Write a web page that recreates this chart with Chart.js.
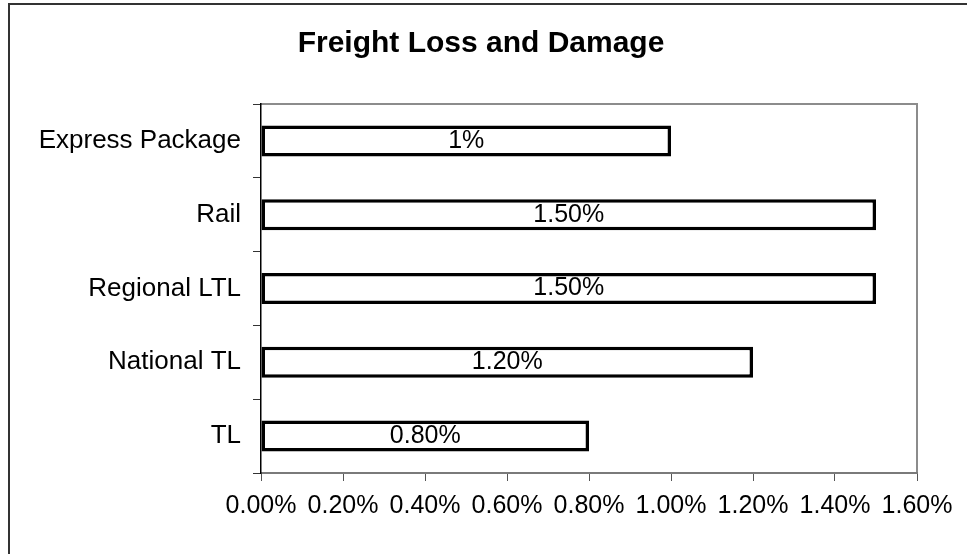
<!DOCTYPE html>
<html>
<head>
<meta charset="utf-8">
<script src="https://cdn.jsdelivr.net/npm/chart.js@4"></script>
<style>
  html, body { margin: 0; padding: 0; background: #fff; }
  #wrap { width: 967px; height: 554px; position: relative; }
</style>
</head>
<body>
<div id="wrap"><canvas id="c" width="967" height="554"></canvas></div>
<script>
// Freight loss and damage rate by carrier type (percent of shipments)
const carriers = ['Express Package', 'Rail', 'Regional LTL', 'National TL', 'TL'];
const lossRates = [1.0, 1.5, 1.5, 1.2, 0.8];
const rateLabels = ['1%', '1.50%', '1.50%', '1.20%', '0.80%'];
const axisTicks = [0, 0.2, 0.4, 0.6, 0.8, 1.0, 1.2, 1.4, 1.6];

const FONT = "'Liberation Sans', Arial, sans-serif";

// Outer frame, plot frame and title
const framePlugin = {
  id: 'frame',
  beforeDraw(chart) {
    const ctx = chart.ctx;
    const a = chart.chartArea;
    ctx.save();
    ctx.fillStyle = '#fff';
    ctx.fillRect(0, 0, chart.width, chart.height);
    ctx.strokeStyle = '#333';
    ctx.lineWidth = 2;
    ctx.strokeRect(9, 4, chart.width + 20, chart.height + 20);
    ctx.strokeStyle = '#8c8c8c';
    ctx.lineWidth = 2;
    ctx.beginPath();
    ctx.moveTo(a.left, a.top);
    ctx.lineTo(a.right, a.top);
    ctx.lineTo(a.right, a.bottom);
    ctx.stroke();
    ctx.fillStyle = '#000';
    ctx.font = 'bold 30px ' + FONT;
    ctx.textAlign = 'center';
    ctx.textBaseline = 'middle';
    ctx.fillText('Freight Loss and Damage', 481, 44);
    ctx.restore();
  }
};

// Value text centred inside each bar
const valueLabelPlugin = {
  id: 'valueLabels',
  afterDatasetsDraw(chart) {
    const ctx = chart.ctx;
    const meta = chart.getDatasetMeta(0);
    ctx.save();
    ctx.fillStyle = '#000';
    ctx.font = '25px ' + FONT;
    ctx.textAlign = 'center';
    ctx.textBaseline = 'middle';
    meta.data.forEach((bar, i) => {
      const p = bar.getProps(['x', 'y', 'base'], true);
      ctx.fillText(rateLabels[i], (p.x + p.base) / 2, p.y);
    });
    ctx.restore();
  }
};

new Chart(document.getElementById('c'), {
  type: 'bar',
  data: {
    labels: carriers,
    datasets: [{
      data: lossRates,
      backgroundColor: '#ffffff',
      borderColor: '#000000',
      borderWidth: 3.5,
      borderSkipped: false,
      categoryPercentage: 1,
      barPercentage: 0.42
    }]
  },
  options: {
    indexAxis: 'y',
    responsive: false,
    animation: false,
    layout: { padding: { top: 104, right: 50, bottom: 0, left: 0 } },
    plugins: {
      legend: { display: false },
      title: { display: false },
      tooltip: { enabled: false }
    },
    scales: {
      x: {
        min: 0,
        max: 1.6,
        afterBuildTicks(scale) {
          scale.ticks = axisTicks.map(v => ({ value: v }));
        },
        afterFit(scale) { scale.height = 554 - 473; },
        ticks: {
          color: '#000',
          font: { family: FONT, size: 25 },
          padding: 10,
          maxRotation: 0,
          autoSkip: false,
          callback: v => v.toFixed(2) + '%'
        },
        grid: {
          drawOnChartArea: false,
          drawTicks: true,
          tickLength: 8,
          tickColor: '#555'
        },
        border: { display: true, color: '#7a7a7a', width: 2 }
      },
      y: {
        afterFit(scale) { scale.width = 261; },
        ticks: {
          color: '#000',
          font: { family: FONT, size: 26 },
          padding: 12
        },
        grid: {
          drawOnChartArea: false,
          drawTicks: true,
          tickLength: 8,
          tickColor: '#333',
          offset: true
        },
        border: { display: true, color: '#000', width: 1.5 }
      }
    }
  },
  plugins: [framePlugin, valueLabelPlugin]
});
</script>
</body>
</html>
